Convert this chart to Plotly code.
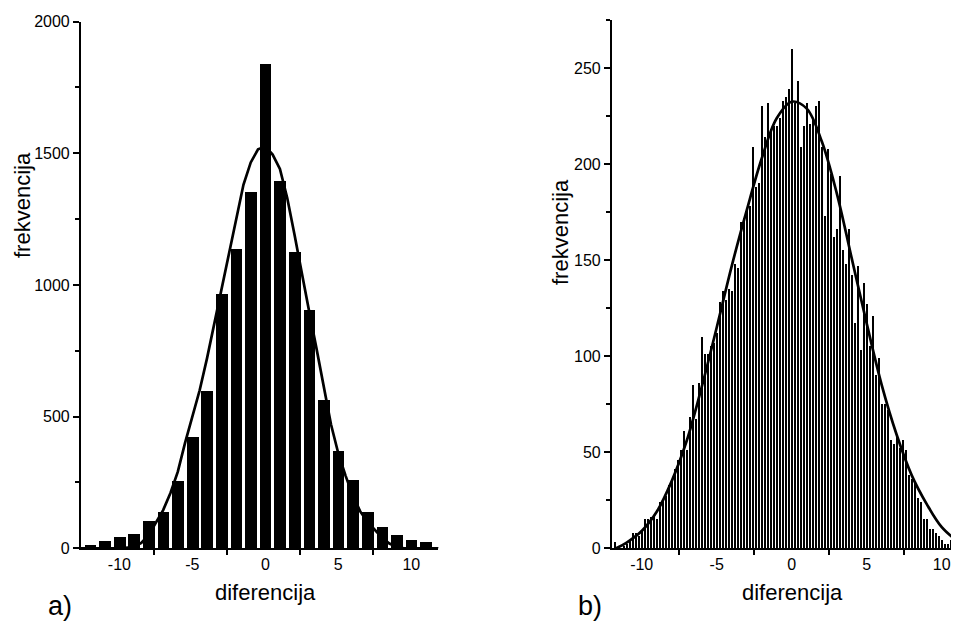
import plotly.graph_objects as go

# ---------------- data: panel a ----------------
a_bins = [-12, -11, -10, -9, -8, -7, -6, -5, -4, -3, -2, -1, 0, 1, 2, 3, 4, 5, 6, 7, 8, 9, 10, 11, 12]
a_counts = [15, 30, 46, 58, 106, 141, 256, 423, 598, 969, 1140, 1353, 1839, 1398, 1125, 908,
            565, 370, 261, 138, 81, 53, 35, 24, 8]
a_fit_x = [-12.65, -10, -9, -8.5, -8, -7.5, -7, -6.5, -6, -5.5, -5, -4.5, -4, -3.5, -3, -2.5, -2,
           -1.5, -1, -0.5, 0, 0.5, 1, 1.5, 2, 2.5, 3, 3.5, 4, 4.5, 5, 5.5, 6, 6.5, 7, 7.5, 8,
           8.5, 9, 9.5, 11.85]
a_fit_y = [0, 0, 5, 20, 50, 95, 145, 210, 290, 400, 500, 600, 720, 850, 990, 1110, 1250,
           1380, 1465, 1515, 1525, 1495, 1440, 1330, 1190, 1040, 900, 760, 610, 470, 360, 275,
           200, 140, 100, 70, 40, 18, 5, 0, 0]
a_xlabels = [-10, -5, 0, 5, 10]
a_xlabel_text = ["-10", "-5", "0", "5", "10"]
a_yticks = [0, 500, 1000, 1500, 2000]

# ---------------- data: panel b ----------------
b_first_bin = -11.8
b_bin_step = 0.2
b_counts = [3, 0, 0, 1, 2, 4, 8, 8, 6, 9,
            15, 15, 16, 17, 15, 24, 25, 27, 33, 36,
            41, 46, 51, 61, 51, 68, 85, 67, 86, 110,
            101, 101, 105, 107, 112, 128, 134, 129, 135, 134,
            148, 146, 170, 172, 176, 178, 209, 188, 190, 230,
            214, 232, 218, 220, 220, 224, 233, 235, 239, 260,
            232, 243, 209, 220, 232, 221, 223, 230, 233, 209,
            173, 208, 195, 162, 166, 194, 155, 148, 166, 142,
            117, 147, 103, 138, 127, 105, 121, 90, 99, 75,
            75, 72, 56, 54, 59, 52, 56, 51, 38, 36,
            34, 26, 24, 15, 15, 10, 10, 8, 6, 4,
            2, 2, 4, 4, 1]
b_bins = [round(b_first_bin + b_bin_step * i, 2) for i in range(len(b_counts))]
b_fit_x = [-11.7, -11, -10, -9, -8, -7, -6, -5, -4, -3, -2, -1, 0, 1, 2, 3, 4, 5, 6, 7, 8, 9,
           10, 11.15]
b_fit_y = [0, 3, 9, 19, 35, 56, 84, 115, 147, 176, 203, 224, 232.6, 229, 212, 185, 151, 117,
           85, 59, 38, 23, 11, 3]
b_xlabels = [-10, -5, 0, 5, 10]
b_xlabel_text = ["-10", "-5", "0", "5", "10"]
b_yticks = [0, 50, 100, 150, 200, 250]

FONT = "Liberation Sans, Arial, sans-serif"
# the page body adds an 8 px margin; size the figure so it fills the rest of the window
OFF = 8
W, H = 959 - OFF, 628 - OFF


def px_x(p):
    return (p - OFF) / W


def px_y(p):
    return (H - (p - OFF)) / H


fig = go.Figure()
fig.add_trace(go.Bar(x=a_bins, y=a_counts, width=0.8, marker=dict(color="black", line_width=0),
                     xaxis="x", yaxis="y", showlegend=False))
fig.add_trace(go.Scatter(x=a_fit_x, y=a_fit_y, mode="lines", line=dict(color="black", width=2.7),
                         xaxis="x", yaxis="y", showlegend=False))
fig.add_trace(go.Bar(x=b_bins, y=b_counts, width=0.17, marker=dict(color="black", line_width=0),
                     xaxis="x2", yaxis="y2", showlegend=False))
fig.add_trace(go.Scatter(x=b_fit_x, y=b_fit_y, mode="lines", line=dict(color="black", width=2.7,
                         shape="spline"), xaxis="x2", yaxis="y2", showlegend=False))

axis_common = dict(showgrid=False, zeroline=False, showline=True, linecolor="black",
                   automargin=False,
                   tickfont=dict(family=FONT, size=16, color="black"), tickcolor="black")

fig.update_layout(
    width=W, height=H, margin=dict(l=0, r=0, t=0, b=0, autoexpand=False),
    paper_bgcolor="white", plot_bgcolor="white", bargap=0,
    xaxis=dict(domain=[px_x(80.7), px_x(438.3)], range=[-12.65, 11.85], anchor="y",
               tickmode="array", tickvals=a_xlabels, ticktext=a_xlabel_text, ticks="",
               linewidth=2,
               minor=dict(tickmode="array", tickvals=[-7.65, -2.65, 2.35, 7.35], ticks="outside",
                          ticklen=5, tickwidth=1.5, tickcolor="black"),
               **axis_common),
    yaxis=dict(domain=[px_y(548.3), px_y(21.5)], range=[0, 2000], anchor="x",
               tickmode="array", tickvals=a_yticks, ticks="outside", ticklen=6, tickwidth=1.5,
               linewidth=1.5,
               minor=dict(tickmode="array", tickvals=[250, 750, 1250, 1750], ticks="outside",
                          ticklen=4, tickwidth=1.5, tickcolor="black"),
               **axis_common),
    xaxis2=dict(domain=[px_x(611.7), 1.0], range=[-12, 11.15], anchor="y2",
                tickmode="array", tickvals=b_xlabels, ticktext=b_xlabel_text, ticks="",
                linewidth=2,
                minor=dict(tickmode="array", tickvals=[-7.5, -2.5, 2.5, 7.5], ticks="outside",
                           ticklen=5, tickwidth=1.5, tickcolor="black"),
                **axis_common),
    yaxis2=dict(domain=[px_y(548.3), px_y(20.3)], range=[0, 275], anchor="x2",
                tickmode="array", tickvals=b_yticks, ticks="outside", ticklen=6, tickwidth=1.5,
                linewidth=1.5,
                minor=dict(tickmode="array", tickvals=[25, 75, 125, 175, 225, 275],
                           ticks="outside", ticklen=4, tickwidth=1.5, tickcolor="black"),
                **axis_common),
)

title_font = dict(family=FONT, size=22, color="black")
annotations = [
    dict(text="frekvencija", x=px_x(22), y=px_y(205), textangle=-90, font=title_font),
    dict(text="diferencija", x=px_x(265), y=px_y(592), font=title_font),
    dict(text="frekvencija", x=px_x(560), y=px_y(232), textangle=-90, font=title_font),
    dict(text="diferencija", x=px_x(792), y=px_y(592), font=title_font),
    dict(text="a)", x=px_x(60), y=px_y(606), font=dict(family=FONT, size=27, color="black")),
    dict(text="b)", x=px_x(590), y=px_y(606), font=dict(family=FONT, size=27, color="black")),
]
for a in annotations:
    a.update(xref="paper", yref="paper", showarrow=False, xanchor="center", yanchor="middle")
fig.update_layout(annotations=annotations)

fig.write_html("out.html")
